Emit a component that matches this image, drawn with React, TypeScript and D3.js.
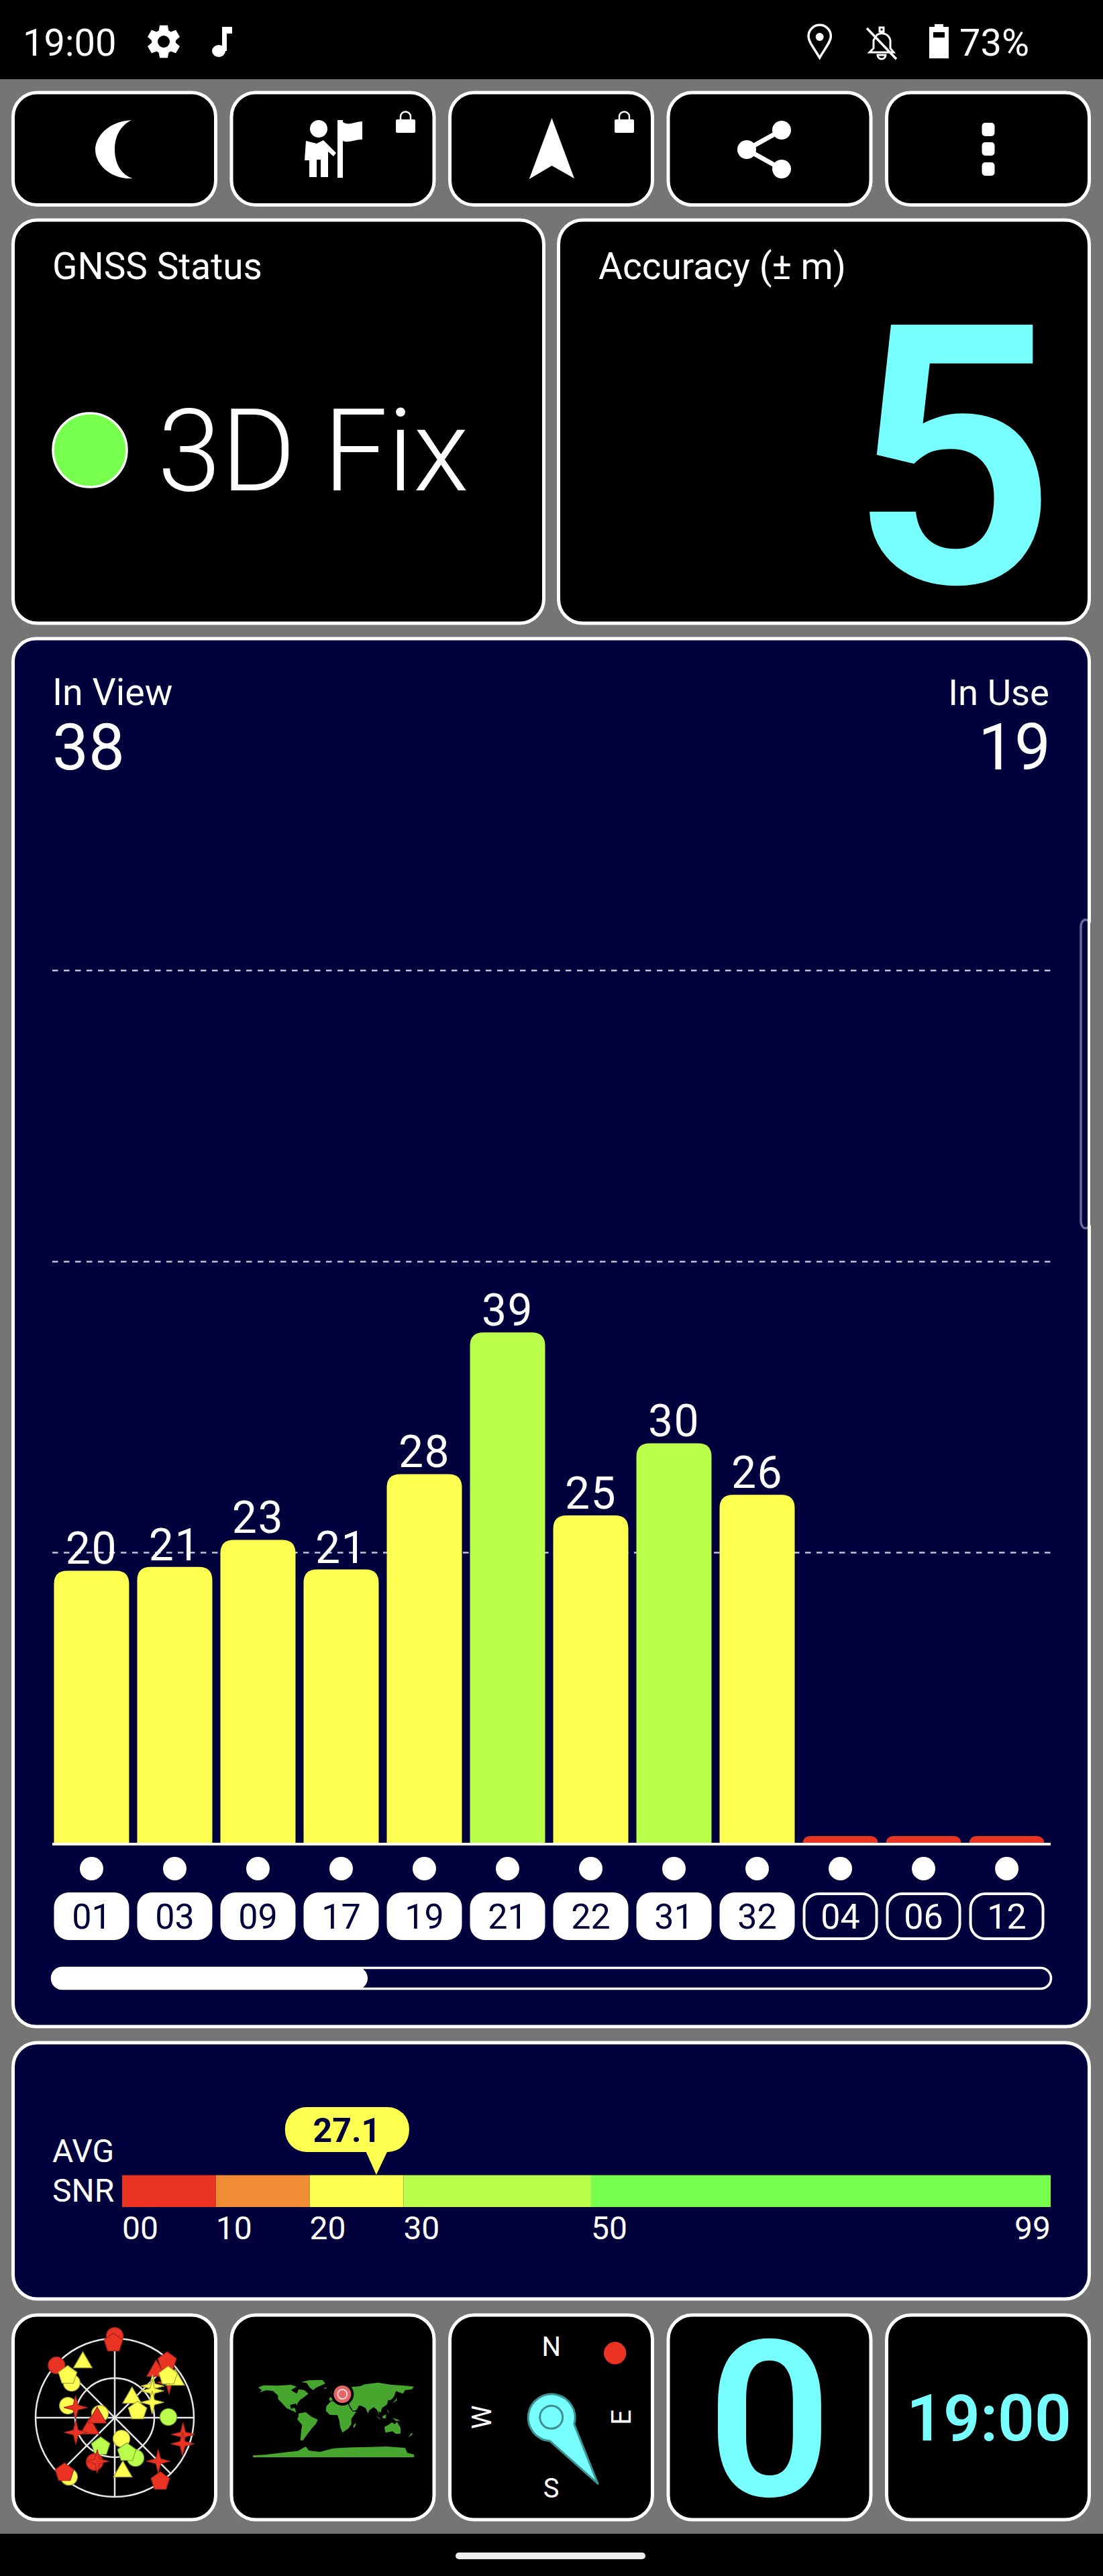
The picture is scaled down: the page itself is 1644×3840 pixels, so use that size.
import * as d3 from "d3";

// ── Signal bars ──
const satIds = ["01", "03", "09", "17", "19", "21", "22", "31", "32", "04", "06", "12"];
const satSnr = [20.6, 20.9, 23.0, 20.7, 28.1, 39.1, 24.9, 30.5, 26.5, 0, 0, 0];
const satLabels = ["20", "21", "23", "21", "28", "39", "25", "30", "26", "", "", ""];
const satUsed = [true, true, true, true, true, true, true, true, true, false, false, false];
const gridSnr = [22, 44.6, 67.2];

// ── Average SNR legend ──
const snrStops = [0, 10, 20, 30, 50, 99];
const snrStopLabels = ["00", "10", "20", "30", "50", "99"];
const snrColors = ["#EA3323", "#F08C34", "#FFFF52", "#BAFF4C", "#76FF4C"];
const avgSnr = 27.1;

// ── Sky plot: [azimuth, elevation, shape, snr class] ──
const skySats: [number, number, string, number][] = [
  [0, -3, "circle", 0], [359, 5, "pentagon", 0], [312, 1, "circle", 0], [330, 17.5, "triangle", 2],
  [309, 27, "circle", 2], [312, 18, "pentagon", 2], [57, 16.5, "star", 0], [41.5, 19, "triangle", 0],
  [58, 9, "triangle", 2], [43, 2.6, "pentagon", 0], [52, 13, "pentagon", 2], [50, 34, "star", 2],
  [54.5, 37.5, "star", 2], [67.7, 44, "star", 2], [41, 60, "triangle", 2], [73.6, 63, "pentagon", 2],
  [284.4, 35, "circle", 2], [284.5, 44, "star", 0], [285, 72.6, "circle", 2], [246.6, 59, "triangle", 0],
  [270, 70, "triangle", 0], [249.2, 42.7, "star", 0], [89.3, 29, "circle", 3], [103.8, 10, "star", 0],
  [111.1, 7.4, "star", 0], [162.1, 65, "circle", 2], [206, 53.5, "pentagon", 3], [152.7, 38.5, "circle", 3],
  [160.9, 48, "pentagon", 3], [204.4, 34.7, "circle", 0], [201.8, 36.6, "star", 0], [135, 20, "star", 0],
  [171.5, 28, "triangle", 2], [217.7, 5, "circle", 2], [222.4, 5.3, "pentagon", 0], [144.4, 1, "pentagon", 0],
];
const skyRings = [0, 45];
const skySpokes = [0, 45, 90, 135];

// ── Coarse land outlines, lon/lat ──
const landOutlines: [number, number][][] = [
  [[-168, 66], [-156, 71], [-125, 70], [-95, 72], [-82, 68], [-95, 60], [-82, 52], [-78, 62], [-65, 60], [-56, 52], [-65, 45], [-75, 38], [-81, 30], [-81, 25], [-84, 30], [-97, 27], [-95, 18], [-87, 21], [-83, 10], [-78, 8], [-85, 11], [-105, 20], [-115, 31], [-124, 40], [-124, 48], [-135, 58], [-150, 60], [-165, 55], [-160, 60]],
  [[-55, 82], [-25, 83], [-18, 75], [-40, 65], [-45, 60], [-52, 65], [-60, 76], [-72, 78]],
  [[-78, 8], [-62, 11], [-50, 1], [-35, -6], [-39, -15], [-48, -25], [-58, -38], [-68, -52], [-74, -52], [-72, -30], [-70, -18], [-81, -5], [-78, 2]],
  [[-9, 37], [-9, 43], [-1, 46], [-4, 48], [8, 54], [8, 57], [5, 60], [14, 67], [25, 71], [40, 67], [60, 69], [70, 73], [100, 77], [130, 72], [160, 70], [180, 68], [175, 62], [160, 60], [155, 52], [140, 58], [135, 45], [128, 38], [122, 38], [120, 28], [108, 20], [106, 10], [100, 13], [103, 2], [97, 16], [90, 22], [80, 15], [77, 8], [72, 20], [62, 25], [57, 26], [52, 16], [44, 13], [35, 28], [35, 36], [27, 37], [23, 37], [19, 42], [13, 45], [16, 39], [8, 44], [0, 39], [-5, 36]],
  [[-6, 35], [10, 37], [20, 32], [32, 31], [37, 20], [43, 12], [51, 12], [40, -4], [40, -16], [33, -26], [20, -35], [15, -22], [13, -8], [9, 4], [-8, 5], [-17, 14], [-16, 24]],
  [[114, -22], [122, -18], [131, -12], [137, -16], [142, -11], [150, -24], [150, -37], [140, -38], [132, -32], [116, -35]],
  [[95, 5], [105, -5], [102, -4]], [[109, 1], [118, 6], [117, -3], [111, -3]], [[132, -2], [150, -8], [140, -9]],
  [[44, -20], [49, -13], [50, -17], [46, -25]], [[-5, 50], [0, 51], [-3, 58], [-6, 56]], [[131, 32], [141, 36], [142, 44], [138, 37]],
  [[167, -46], [178, -38], [174, -36]], [[120, 18], [125, 8], [121, 12]], [[-23, 65], [-14, 66], [-18, 63]],
  [[-180, -90], [-180, -86], [-150, -84], [-100, -78], [-80, -76], [-62, -66], [-55, -75], [-30, -78], [0, -70], [40, -68], [80, -67], [120, -66], [160, -69], [165, -80], [180, -84], [180, -90]],
];
const userLon = 20;
const userLat = 51;

const compassLabels = ["N", "E", "S", "W"];
const bearing = 145;

const WHITE = "#FFFFFF";
const GRAY = "#757575";
const NAVY = "#00003C";
const CYAN = "#77FFFF";
const FONT = "Roboto, sans-serif";

const classStroke = ["#A8261C", "#A86020", "#A8A838", "#7CA836"];

// scales
const xBand = d3.scaleBand<string>().domain(satIds).range([74.5, 1562.5]).paddingInner(0.097).paddingOuter(0.048);
const ySnr = d3.scaleLinear().domain([0, 90]).range([2737, 1009]);
const xAvg = d3.scaleLinear().domain([0, 99]).range([182, 1566]);
const rSky = d3.scaleLinear().domain([90, 0]).range([0, 118]);
const xLon = d3.scaleLinear().domain([-180, 180]).range([377, 617]);
const yLat = d3.scaleLinear().domain([0, -90]).range([3603, 3663]);

const baseY = 2749;
const sky = { x: 171, y: 3604 };
const compass = { x: 821.7, y: 3603.3 };

const landPath = d3
  .line<[number, number]>()
  .x((d) => xLon(d[0]))
  .y((d) => yLat(d[1]))
  .curve(d3.curveLinearClosed);

const radial = d3.lineRadial<[number, number]>().angle((d) => d[0]).radius((d) => d[1]).curve(d3.curveLinearClosed);

function ringPoints(n: number, r: number): [number, number][] {
  return d3.range(n).map((i) => [(i * 2 * Math.PI) / n, r] as [number, number]);
}

function starPoints(r: number, inner: number): [number, number][] {
  return d3.range(8).map((i) => [(i * Math.PI) / 4, i % 2 ? inner : r] as [number, number]);
}

function gearPath(r: number, root: number): string {
  const pts: [number, number][] = [];
  d3.range(6).forEach((i) => {
    const a = (i * Math.PI) / 3;
    pts.push([a - 0.42, root], [a - 0.24, r], [a + 0.24, r], [a + 0.42, root]);
  });
  return radial(pts) ?? "";
}

function topRounded(x: number, y: number, w: number, h: number, r: number): string {
  const p = d3.path();
  const rr = Math.min(r, h);
  p.moveTo(x, y + h);
  p.lineTo(x, y + rr);
  p.quadraticCurveTo(x, y, x + rr, y);
  p.lineTo(x + w - rr, y);
  p.quadraticCurveTo(x + w, y, x + w, y + rr);
  p.lineTo(x + w, y + h);
  p.closePath();
  return p.toString();
}

function Card({ x, y, w, h, fill = "#000", r = 36 }: { x: number; y: number; w: number; h: number; fill?: string; r?: number }) {
  return <rect x={x} y={y} width={w} height={h} rx={r} fill={fill} stroke={WHITE} strokeWidth={5} />;
}

function Lock({ x, y }: { x: number; y: number }) {
  return (
    <g transform={`translate(${x},${y})`}>
      <rect x={0} y={11} width={29} height={20} rx={2} fill={WHITE} />
      <path d="M7 12 V7 A7.5 7.5 0 0 1 22 7 V12" fill="none" stroke={WHITE} strokeWidth={2.5} />
    </g>
  );
}

function SkyMarker({ sat }: { sat: [number, number, string, number] }) {
  const [az, el, shape, cls] = sat;
  const a = (az * Math.PI) / 180;
  const x = sky.x + rSky(el) * Math.sin(a);
  const y = sky.y - rSky(el) * Math.cos(a);
  const fill = snrColors[cls];
  const stroke = classStroke[cls];
  const common = { fill, stroke, strokeWidth: 1.2 };
  if (shape === "circle") return <circle cx={x} cy={y} r={12.5} {...common} />;
  if (shape === "triangle")
    return <path transform={`translate(${x},${y})`} d={radial(ringPoints(3, 16)) ?? ""} {...common} />;
  if (shape === "pentagon")
    return <path transform={`translate(${x},${y})`} d={radial(ringPoints(5, 14.5)) ?? ""} {...common} />;
  return <path transform={`translate(${x},${y})`} d={radial(starPoints(17.5, 5)) ?? ""} {...common} />;
}

export default function App() {
  const topX = [19.5, 345, 670.5, 996, 1321.5];
  const btnW = 302;
  const band = xBand.bandwidth();
  const avgX = xAvg(avgSnr);

  return (
    <svg
      width={1644}
      height={3840}
      viewBox="0 0 1644 3840"
      style={{ position: "absolute", left: 0, top: 0, display: "block" }}
      fontFamily={FONT}
    >
      <rect width={1644} height={3840} fill="#000" />
      <rect y={118} width={1644} height={3659} fill={GRAY} />

      {/* status bar */}
      <g fill={WHITE}>
        <text x={34} y={83} fontSize={56}>19:00</text>
        <path transform="translate(244,62)" d={gearPath(25, 18)} />
        <circle cx={244} cy={62} r={9} fill="#000" />
        <ellipse cx={326} cy={76} rx={10} ry={9} />
        <path d="M331 76 V40 H346 V50 H338 V76 Z" />
        <text x={1430} y={83} fontSize={56}>73%</text>
        <path d="M1221.7 86 C1212 70 1205 62 1205 54 A16.7 16.7 0 0 1 1238.4 54 C1238.4 62 1231 70 1221.7 86 Z" fill="none" stroke={WHITE} strokeWidth={3.5} />
        <circle cx={1221.7} cy={55} r={6} />
        <path d="M1296 78 H1332 L1327 72 V60 A13 13 0 0 0 1307 52 L1302 60 V72 Z M1308 82 H1320 A6 6 0 0 1 1308 82 Z M1311 41 h6 v6 h-6 Z" fill="none" stroke={WHITE} strokeWidth={3} />
        <path d="M1292 42 L1336 88" fill="none" stroke={WHITE} strokeWidth={3.5} />
        <path d="M1385 87 V40 H1393 V36 H1406 V40 H1414 V87 Z M1391 48 V56 H1408 V48 Z" fillRule="evenodd" />
      </g>

      {/* top buttons */}
      {topX.map((x) => (
        <Card key={x} x={x} y={138} w={btnW} h={167.5} />
      ))}
      <g fill={WHITE}>
        <path d="M196 179 C160 181 142 205 142 223 C142 245 165 268 198 266 C178 260 171 240 171 223 C171 205 178 188 196 179 Z" />
        <circle cx={475} cy={192} r={13} />
        <path d="M456 210 L472 214 L482 209 L501 228 L497 233 L489 226 V264 H478 V238 H472 V264 H461 V239 H454 Z" />
        <path d="M503 179 H511 V182 C520 188 530 181 540 181 V208 C530 207 520 214 511 210 V265 H503 Z" />
        <path d="M822.5 176 L856 266 L822.5 247 L788.7 267 Z" />
        <g stroke={WHITE} strokeWidth={7}>
          <line x1={1165} y1={194} x2={1113} y2={223} />
          <line x1={1113} y1={223} x2={1165} y2={252} />
        </g>
        <circle cx={1165} cy={194} r={14} />
        <circle cx={1113} cy={223} r={14} />
        <circle cx={1165} cy={252} r={14} />
        {[193, 222, 252].map((y) => (
          <rect key={y} x={1463.5} y={y - 10} width={19} height={20} rx={5} />
        ))}
      </g>
      <Lock x={590} y={167} />
      <Lock x={916} y={167} />

      {/* status cards */}
      <Card x={19.5} y={328} w={791} h={601} />
      <Card x={832.5} y={328} w={791} h={601} />
      <text x={78} y={416} fontSize={55} fill={WHITE}>GNSS Status</text>
      <text x={892} y={416} fontSize={55} fill={WHITE}>Accuracy (± m)</text>
      <circle cx={134} cy={671} r={55} fill={snrColors[4]} stroke={WHITE} strokeWidth={3.5} />
      <text x={235} y={731} fontSize={170} fill={WHITE} fontWeight={350}>3D Fix</text>
      <text x={1574} y={868} fontSize={540} fill={CYAN} fontWeight={600} textAnchor="end">5</text>

      {/* signal chart */}
      <Card x={19.5} y={952} w={1604} h={2069} fill={NAVY} r={34} />
      <rect x={1611} y={1371} width={14} height={460} rx={10} fill="none" stroke="#6A6A9C" strokeWidth={3.5} />
      <rect x={1621} y={1360} width={4} height={480} fill={WHITE} />
      <text x={78} y={1051} fontSize={55.5} fill={WHITE}>In View</text>
      <text x={78} y={1147} fontSize={96} fill={WHITE}>38</text>
      <text x={1564} y={1051} fontSize={54.5} fill={WHITE} textAnchor="end">In Use</text>
      <text x={1566} y={1147} fontSize={96} fill={WHITE} textAnchor="end">19</text>

      {gridSnr.map((v) => (
        <line key={v} x1={78} x2={1567} y1={ySnr(v)} y2={ySnr(v)} stroke="#C4C4D4" strokeWidth={2.5} strokeDasharray="8.5 8.5" />
      ))}
      {satIds.map((id, i) => {
        const x = xBand(id) ?? 0;
        const cx = x + band / 2;
        const top = ySnr(satSnr[i]);
        const cls = satSnr[i] === 0 ? 0 : satSnr[i] >= 30 ? 3 : 2;
        return (
          <g key={id}>
            <path d={topRounded(x, top, band, baseY - top, 20)} fill={snrColors[cls]} />
            {satLabels[i] && (
              <text x={cx} y={top - 10} fontSize={66} fill={WHITE} textAnchor="middle" letterSpacing={1.5}>
                {satLabels[i]}
              </text>
            )}
            <circle cx={cx} cy={2785.5} r={17.5} fill={WHITE} />
            <rect
              x={x + (satUsed[i] ? 0 : 2)}
              y={satUsed[i] ? 2821 : 2823}
              width={satUsed[i] ? band : band - 4}
              height={satUsed[i] ? 71 : 67}
              rx={22}
              fill={satUsed[i] ? WHITE : NAVY}
              stroke={WHITE}
              strokeWidth={satUsed[i] ? 0 : 4}
            />
            <text x={cx} y={2875} fontSize={52} fill={satUsed[i] ? NAVY : WHITE} textAnchor="middle">
              {id}
            </text>
          </g>
        );
      })}
      <line x1={78} x2={1566} y1={baseY} y2={baseY} stroke={WHITE} strokeWidth={4} />
      <rect x={77.5} y={2933.5} width={1489} height={31} rx={15.5} fill={NAVY} stroke={WHITE} strokeWidth={3.5} />
      <rect x={76} y={2932} width={472} height={34} rx={17} fill={WHITE} />

      {/* average SNR */}
      <Card x={19.5} y={3045} w={1604} h={382} fill={NAVY} />
      <text x={78} y={3223} fontSize={48} fill={WHITE}>AVG</text>
      <text x={78} y={3282} fontSize={48} fill={WHITE}>SNR</text>
      {snrColors.map((c, i) => (
        <rect
          key={c}
          x={xAvg(snrStops[i])}
          y={3242.5}
          width={xAvg(snrStops[i + 1]) - xAvg(snrStops[i])}
          height={47.5}
          fill={c}
        />
      ))}
      {snrStopLabels.map((t, i) => (
        <text
          key={t}
          x={xAvg(snrStops[i])}
          y={3338}
          fontSize={48}
          fill={WHITE}
          textAnchor={i === snrStopLabels.length - 1 ? "end" : "start"}
        >
          {t}
        </text>
      ))}
      <rect x={avgX - 136} y={3141} width={185} height={67} rx={32} fill={snrColors[2]} />
      <path d={`M${avgX - 16} 3206 L${avgX + 17} 3206 L${avgX} 3242 Z`} fill={snrColors[2]} />
      <text x={avgX - 44} y={3193} fontSize={50} fontWeight={700} fill={NAVY} textAnchor="middle">
        {avgSnr}
      </text>

      {/* bottom row */}
      {topX.map((x) => (
        <Card key={x} x={x} y={3451} w={btnW} h={305} />
      ))}

      {/* sky plot */}
      <g fill="none" stroke="#E6E6E6" strokeWidth={2.5}>
        {skyRings.map((el) => (
          <circle key={el} cx={sky.x} cy={sky.y} r={rSky(el)} />
        ))}
        {skySpokes.map((az) => {
          const a = (az * Math.PI) / 180;
          const r = rSky(0);
          return (
            <line
              key={az}
              x1={sky.x - r * Math.sin(a)}
              y1={sky.y + r * Math.cos(a)}
              x2={sky.x + r * Math.sin(a)}
              y2={sky.y - r * Math.cos(a)}
            />
          );
        })}
      </g>
      {skySats.map((s, i) => (
        <SkyMarker key={i} sat={s} />
      ))}

      {/* world map */}
      {landOutlines.map((poly, i) => (
        <path key={i} d={landPath(poly) ?? ""} fill="#47A62D" />
      ))}
      <circle cx={xLon(userLon)} cy={yLat(userLat)} r={17} fill="#000" />
      <circle cx={xLon(userLon)} cy={yLat(userLat)} r={13} fill="#E36666" />
      <circle cx={xLon(userLon)} cy={yLat(userLat)} r={7} fill="none" stroke="#F5D5D5" strokeWidth={2} />

      {/* compass */}
      {compassLabels.map((t, i) => {
        const pos = [
          [0, -105],
          [104, 0],
          [0, 106],
          [-104, 0],
        ][i];
        const rot = i % 2 ? -90 : 0;
        return (
          <text
            key={t}
            transform={`translate(${compass.x + pos[0]},${compass.y + pos[1]}) rotate(${rot})`}
            fontSize={40}
            fill={WHITE}
            textAnchor="middle"
            dy="0.35em"
          >
            {t}
          </text>
        );
      })}
      <circle cx={916.7} cy={3507.7} r={16.7} fill={snrColors[0]} />
      <g transform={`translate(${compass.x},${compass.y}) rotate(${bearing})`} stroke="#3E8F8F">
        <path d="M22 -28 L0 -121 L-22 -28 A35 35 0 1 0 22 -28 Z" fill={CYAN} strokeWidth={3} strokeLinejoin="round" />
        <circle r={17} fill="none" strokeWidth={3} />
      </g>

      <text x={1147} y={3720} fontSize={325} fontWeight={600} fill={CYAN} textAnchor="middle">0</text>
      <text x={1474} y={3638} fontSize={96} fontWeight={600} fill={CYAN} textAnchor="middle">19:00</text>

      {/* nav pill */}
      <rect x={679} y={3805} width={283} height={10} rx={5} fill="#EEEEEE" />
    </svg>
  );
}
